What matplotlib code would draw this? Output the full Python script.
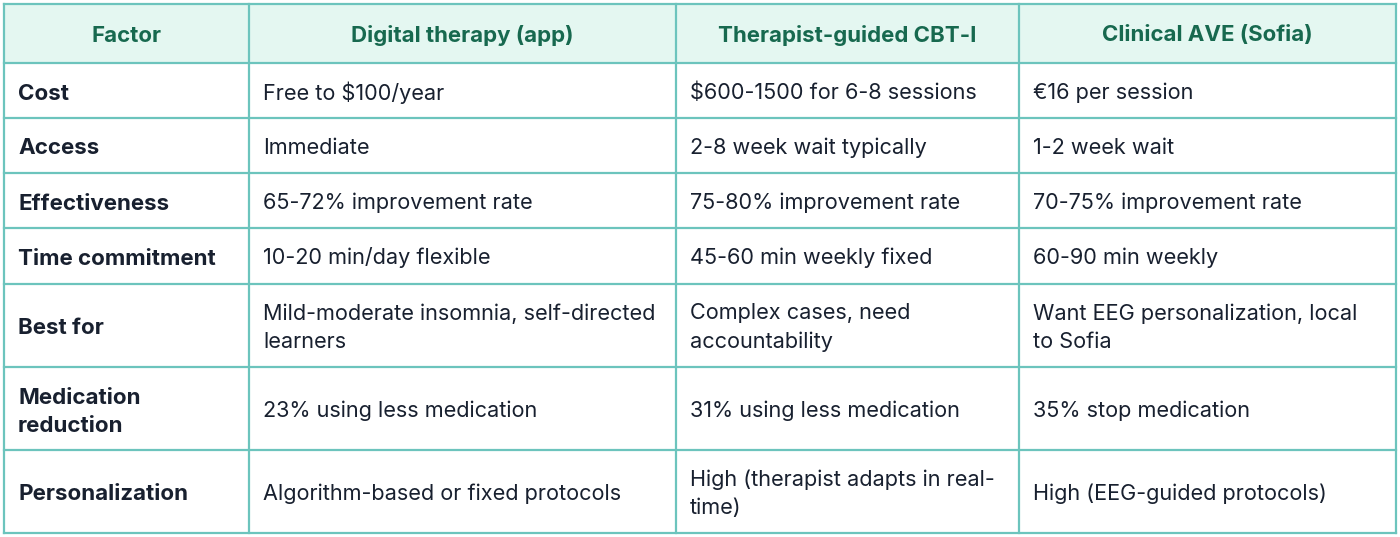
import matplotlib
matplotlib.use("Agg")
import matplotlib.pyplot as plt
from matplotlib.patches import Rectangle

plt.rcParams["font.family"] = ["Inter", "DejaVu Sans"]

columns = ["Factor", "Digital therapy (app)", "Therapist-guided CBT-I", "Clinical AVE (Sofia)"]
factors = ["Cost", "Access", "Effectiveness", "Time commitment", "Best for",
           "Medication\nreduction", "Personalization"]
digital = ["Free to $100/year", "Immediate", "65-72% improvement rate",
           "10-20 min/day flexible", "Mild-moderate insomnia, self-directed\nlearners",
           "23% using less medication", "Algorithm-based or fixed protocols"]
therapist = ["$600-1500 for 6-8 sessions", "2-8 week wait typically",
             "75-80% improvement rate", "45-60 min weekly fixed",
             "Complex cases, need\naccountability", "31% using less medication",
             "High (therapist adapts in real-\ntime)"]
clinical = ["€16 per session", "1-2 week wait", "70-75% improvement rate",
            "60-90 min weekly", "Want EEG personalization, local\nto Sofia",
            "35% stop medication", "High (EEG-guided protocols)"]

# layout in pixels
col_edges = [4, 249, 676, 1019, 1396]
row_edges = [4, 63, 118, 173, 228, 284, 367, 450, 533]

BORDER = "#6cc4bd"
HEADER_BG = "#e4f7f1"
HEADER_FG = "#17694f"
TEXT = "#18202f"
FS = 15.6
HFS = 16.0
BFS = 16.1

fig = plt.figure(figsize=(14, 5.37), dpi=100)
ax = fig.add_axes([0, 0, 1, 1])
ax.set_xlim(0, 1400)
ax.set_ylim(537, 0)
ax.axis("off")

# header background
ax.add_patch(Rectangle((col_edges[0], row_edges[0]), col_edges[-1] - col_edges[0],
                       row_edges[1] - row_edges[0], facecolor=HEADER_BG, edgecolor="none"))

# header text
for i, name in enumerate(columns):
    cx = (col_edges[i] + col_edges[i + 1]) / 2
    cy = (row_edges[0] + row_edges[1]) / 2 + 2
    ax.text(cx, cy, name, ha="center", va="center", fontsize=HFS,
            fontweight="bold", color=HEADER_FG)

# body
body = [factors, digital, therapist, clinical]
for c, col in enumerate(body):
    bold = c == 0
    for r, txt in enumerate(col):
        y = (row_edges[r + 1] + row_edges[r + 2]) / 2 + (3 if bold else 2)
        ax.text(col_edges[c] + 14, y, txt, ha="left", va="center",
                fontsize=BFS if bold else FS,
                fontweight="bold" if bold else "normal", color=TEXT,
                linespacing=1.5)

# grid lines
for x in col_edges:
    ax.plot([x, x], [row_edges[0], row_edges[-1]], color=BORDER, lw=1.6,
            solid_capstyle="projecting")
for y in row_edges:
    ax.plot([col_edges[0], col_edges[-1]], [y, y], color=BORDER, lw=1.6,
            solid_capstyle="projecting")

fig.savefig("out.png", dpi=100, facecolor="white")
